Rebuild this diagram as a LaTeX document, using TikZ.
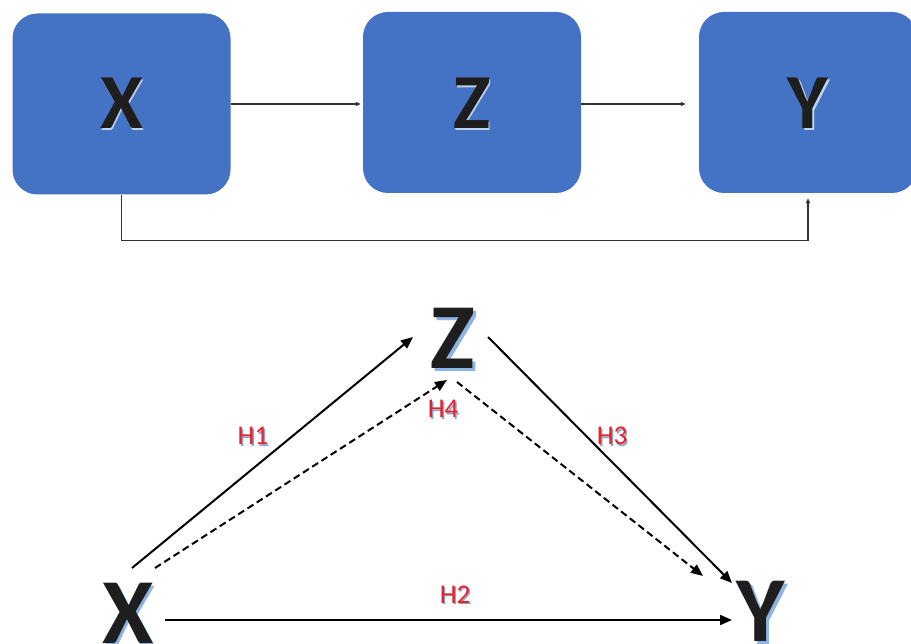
\documentclass[tikz,border=0pt]{standalone}
\usepackage{fontspec}
\setmainfont{Carlito}
\usetikzlibrary{arrows.meta}
\definecolor{boxblue}{HTML}{4472C4}
\definecolor{shadowblue}{HTML}{8EB4E3}
\definecolor{hred}{HTML}{E8202A}
\definecolor{inkdark}{HTML}{1E1E1E}
\newcommand{\shadowtext}[4]{\rlap{\kern#2\raisebox{-#2}{\textcolor{#3}{#1}}}\textcolor{#4}{#1}}
\begin{document}
\begin{tikzpicture}[x=1pt,y=-1pt,
  box/.style={draw=none, fill=boxblue, rounded corners=25pt, minimum width=218pt, minimum height=181pt, inner sep=0pt},
  boxlabel/.style={font=\fontsize{78}{80}\selectfont\bfseries, inner sep=0pt},
  biglabel/.style={font=\fontsize{93}{95}\selectfont\bfseries, inner sep=0pt},
  hlabel/.style={font=\fontsize{27}{29}\selectfont, inner sep=0pt},
  toparrow/.style={draw=black!80, line width=1.2pt, -{Triangle[length=5pt,width=4pt]}},
  mainarrow/.style={draw=black, line width=2pt, -{Triangle[length=12pt,width=10pt]}},
  dasharrow/.style={mainarrow, dash pattern=on 7pt off 4pt}
]
\useasboundingbox (0,0) rectangle (911,644);
% top boxes
\node[box] (bx) at (121.5,104) {};
\node[box] (bz) at (472,102.5) {};
\node[box] (by) at (808,102.5) {};
\node[boxlabel] (tx) at (121.5,104) {\shadowtext{X}{1.5pt}{shadowblue!60}{inkdark}};
\node[boxlabel] (tz) at (472,104) {\shadowtext{Z}{1.5pt}{shadowblue!60}{inkdark}};
\node[boxlabel] (ty) at (808,104) {\shadowtext{Y}{1.5pt}{shadowblue!60}{inkdark}};
% top connectors
\draw[toparrow] (bx.east |- 0,104) -- ([xshift=-2pt]bz.west |- 0,104);
\draw[toparrow] (bz.east |- 0,104) -- ([xshift=-13pt]by.west |- 0,104);
\draw[toparrow] (bx.south) -- ++(0,46) -| ([yshift=-5pt]by.south);
% bottom letters
\node[biglabel] (X) at (128,615) {\shadowtext{X}{2.5pt}{shadowblue}{inkdark}};
\node[biglabel] (Z) at (453,340) {\shadowtext{Z}{2.5pt}{shadowblue}{inkdark}};
\node[biglabel] (Y) at (761,613) {\shadowtext{Y}{2.5pt}{shadowblue}{inkdark}};
% connector endpoints
\coordinate (h1s) at (132,568);
\coordinate (h1e) at (413,337);
\coordinate (h4s) at (155,568);
\coordinate (h4e) at (447,380);
\coordinate (h3s) at (488,337);
\coordinate (h3e) at (732,583);
\coordinate (h5s) at (457,382);
\coordinate (h5e) at (703,576);
\coordinate (h2s) at (165,620);
\coordinate (h2e) at (732,620);
\draw[mainarrow] (h1s) -- (h1e);
\draw[dasharrow] (h4s) -- (h4e);
\draw[mainarrow] (h3s) -- (h3e);
\draw[dasharrow] (h5s) -- (h5e);
\draw[mainarrow] (h2s) -- (h2e);
% labels
\node[hlabel] (l1) at (253,437) {\shadowtext{H1}{1.5pt}{shadowblue!70!gray}{hred}};
\node[hlabel] (l4) at (443,410) {\shadowtext{H4}{1.5pt}{shadowblue!70!gray}{hred}};
\node[hlabel] (l3) at (612,437) {\shadowtext{H3}{1.5pt}{shadowblue!70!gray}{hred}};
\node[hlabel] (l2) at (455,595) {\shadowtext{H2}{1.5pt}{shadowblue!70!gray}{hred}};
\end{tikzpicture}
\end{document}
